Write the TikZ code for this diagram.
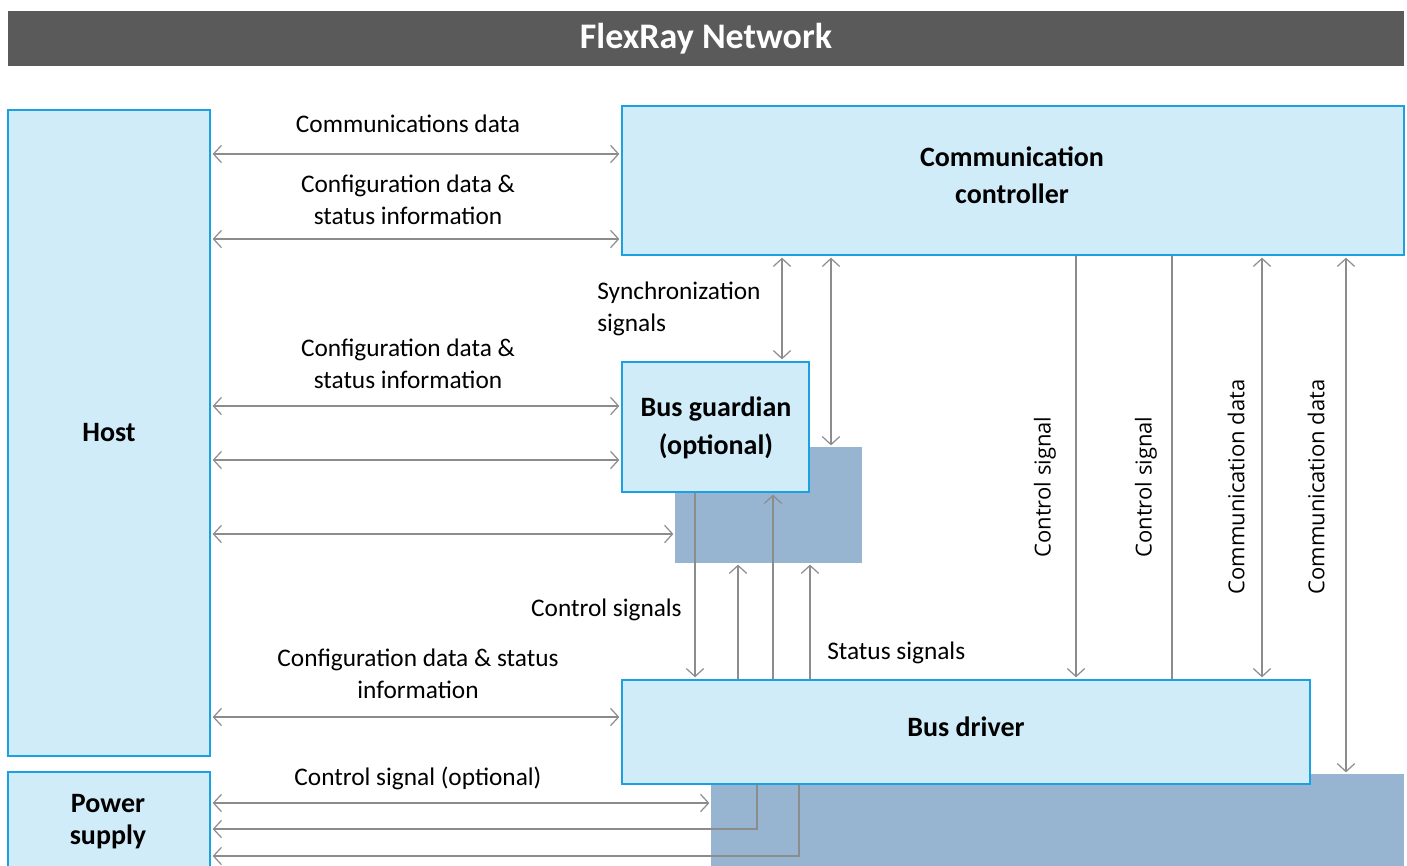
\documentclass[tikz,border=0pt]{standalone}
\usepackage{fontspec}
\setmainfont{Carlito}
\newfontfamily\sidefont{Open Sans}
\usetikzlibrary{arrows.meta,positioning,fit,calc}

\definecolor{boxfill}{HTML}{D0ECF9}
\definecolor{boxline}{HTML}{1BA1E2}
\definecolor{shade}{HTML}{97B4D1}
\definecolor{wire}{HTML}{8C8C8C}
\definecolor{banner}{HTML}{5A5A5A}

\begin{document}
\begin{tikzpicture}[x=0.75pt, y=-0.75pt,
  box/.style={draw=boxline, fill=boxfill, line width=2pt, inner sep=0pt},
  boxtext/.style={align=center, inner sep=0pt, font=\fontsize{21}{28}\selectfont\bfseries},
  shadowbox/.style={fill=shade, inner sep=0pt},
  tip/.style={-{Straight Barb[length=6pt,width=13pt]}, wire, line width=0.9pt, shorten >=1pt},
  arrow/.style={{Straight Barb[length=6pt,width=13pt]}-{Straight Barb[length=6pt,width=13pt]}, wire, line width=0.9pt, shorten >=1pt, shorten <=1pt},
  lab/.style={font=\fontsize{19}{24}\selectfont, align=center, inner sep=0pt},
  vlab/.style={font=\sidefont\fontsize{16.5}{18}\selectfont, rotate=90, inner sep=0pt}
]
\clip (0,0) rectangle (1407,865);

% title bar
\node[fill=banner, fit={(8,11)(1404,66)}, inner sep=0pt] (title) {};
\node[text=white, font=\fontsize{27}{30}\selectfont\bfseries] at (title.center) {FlexRay Network};

% shadows behind guardian and driver
\node[shadowbox, fit={(675,447)(862,563)}] (bgshade) {};
\node[shadowbox, fit={(711,774)(1404,875)}] (bdshade) {};

% blocks
\node[box, fit={(8,110)(210,756)}] (host) {};
\node[box, fit={(8,772)(210,880)}] (ps) {};
\node[box, fit={(622,106)(1404,255)}] (cc) {};
\node[box, fit={(622,362)(809,492)}] (bg) {};
\node[box, fit={(622,680)(1310,784)}] (bd) {};
\node[boxtext] at (host.center) {Host};
\node[boxtext, font=\fontsize{21}{24}\selectfont\bfseries] at (108,822) {Power\\supply};
\node[boxtext] at (1012,175) {Communication\\controller};
\node[boxtext] at (716,428) {Bus guardian\\(optional)};
\node[boxtext] at (966,727) {Bus driver};

% host links
\draw[arrow] (host.east |- 0,154) -- (cc.west |- 0,154);
\draw[arrow] (host.east |- 0,239) -- (cc.west |- 0,239);
\draw[arrow] (host.east |- 0,406) -- (bg.west |- 0,406);
\draw[arrow] (host.east |- 0,460) -- (bg.west |- 0,460);
\draw[arrow] (host.east |- 0,534) -- (bgshade.west |- 0,534);
\draw[arrow] (host.east |- 0,717) -- (bd.west |- 0,717);
\node[lab] (comdata) at (408,124) {Communications data};
\node[lab] (cfgcc) at (408,200) {Configuration data \&\\status information};
\node[lab] (cfgbg) at (408,364) {Configuration data \&\\status information};
\node[lab] (cfgbd) at (418,674) {Configuration data \& status\\information};

% power supply links
\draw[arrow] (ps.east |- 0,803) -- (bdshade.west |- 0,803);
\draw[tip] (bd.south -| 757,0) |- (ps.east |- 0,829);
\draw[tip] (bd.south -| 799,0) |- (ps.east |- 0,856);
\node[lab] (psctl) at (418,778) {Control signal (optional)};

% controller <-> guardian
\draw[arrow] (cc.south -| 782,0) -- (bg.north -| 782,0);
\draw[arrow] (cc.south -| 831,0) -- (bgshade.north -| 831,0);
\node[lab, anchor=west, align=left] (sync) at (597,309) {Synchronization\\signals};

% guardian <-> driver
\draw[tip] (bg.south -| 695,0) -- (bd.north -| 695,0);
\draw[tip] (bd.north -| 738,0) -- (bgshade.south -| 738,0);
\draw[tip] (bd.north -| 773,0) -- (bg.south -| 773,0);
\draw[tip] (bd.north -| 810,0) -- (bgshade.south -| 810,0);
\node[lab, anchor=east] (ctlsig) at (682,610) {Control signals};
\node[lab, anchor=west] (stsig) at (827,653) {Status signals};

% controller <-> driver
\draw[tip] (cc.south -| 1076,0) -- (bd.north -| 1076,0);
\draw[wire, line width=0.9pt] (cc.south -| 1172,0) -- (bd.north -| 1172,0);
\draw[arrow] (cc.south -| 1262,0) -- (bd.north -| 1262,0);
\draw[arrow] (cc.south -| 1346,0) -- (bdshade.north -| 1346,0);
\node[vlab] (ctl1) at (1045,487) {Control signal};
\node[vlab] (ctl2) at (1146,487) {Control signal};
\node[vlab] (dat1) at (1236,487) {Communication data};
\node[vlab] (dat2) at (1316,487) {Communication data};
\end{tikzpicture}
\end{document}
